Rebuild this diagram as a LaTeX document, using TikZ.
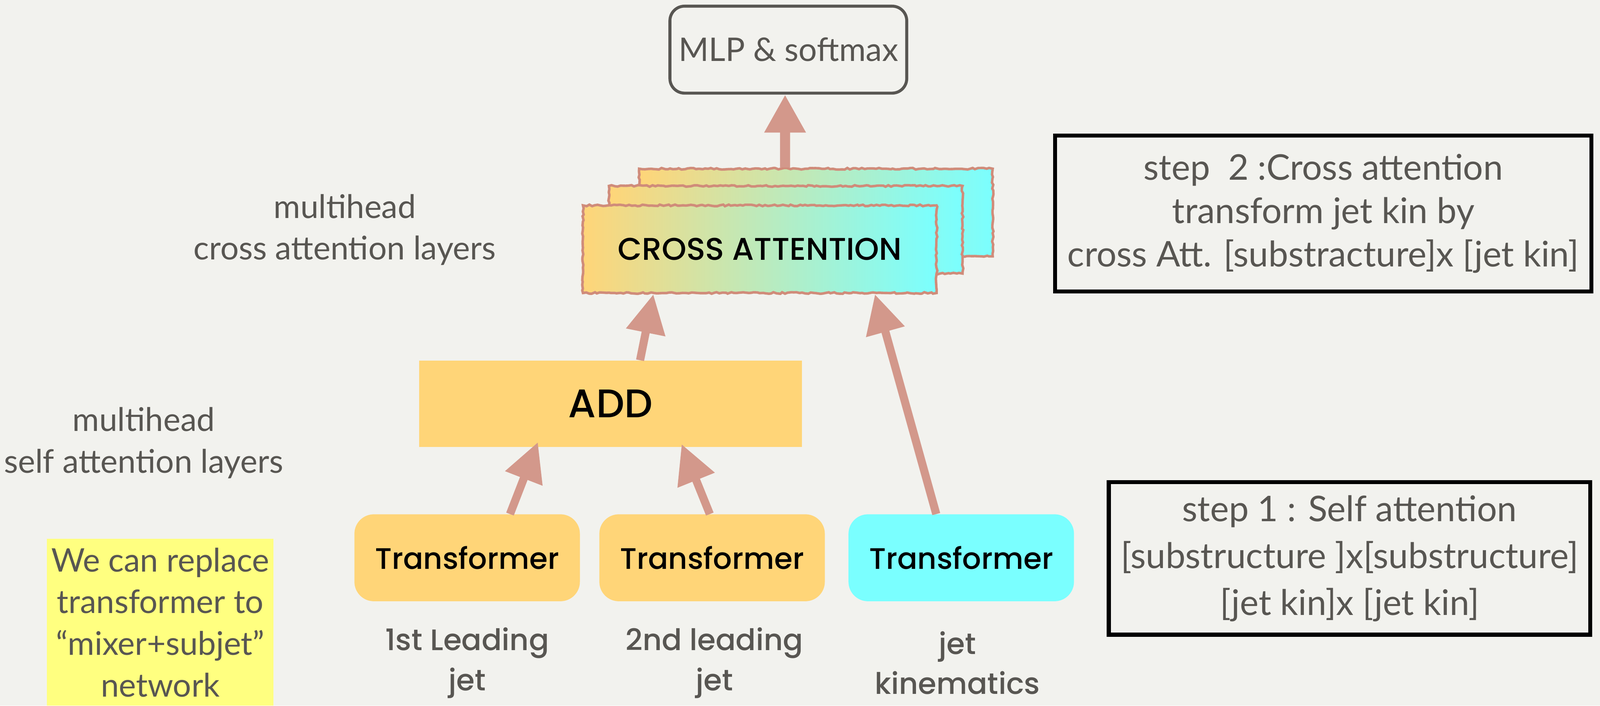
\documentclass[tikz,border=0pt]{standalone}
\usepackage{fontspec}
\setmainfont{Lato}
\newfontfamily\geofont{Poppins Medium}
\usetikzlibrary{arrows.meta,decorations.pathmorphing,positioning}

\definecolor{paper}{RGB}{242,242,238}
\definecolor{inkgray}{RGB}{88,86,82}
\definecolor{arrowpink}{RGB}{211,152,139}
\definecolor{boxyellow}{RGB}{255,213,120}
\definecolor{boxcyan}{RGB}{122,255,255}
\definecolor{cardedge}{RGB}{208,140,122}
\definecolor{noteyellow}{RGB}{255,255,128}

\tikzset{
  graytext/.style={text=inkgray,align=center,font=\fontsize{28.5}{36.5}\selectfont},
  srclabel/.style={text=inkgray,align=center,font=\geofont\fontsize{26}{35}\selectfont},
  mlpbox/.style={draw=inkgray,line width=2.6pt,rounded corners=0.45cm,
    minimum width=7.3cm,minimum height=2.68cm,text=inkgray,
    font=\fontsize{28.5}{34}\selectfont},
  card/.style={draw=cardedge,line width=2.2pt,left color=boxyellow,right color=boxcyan,
    minimum width=10.9cm,minimum height=2.7cm,font=\geofont\fontsize{27.5}{30}\selectfont,
    decorate,decoration={random steps,segment length=2.5pt,amplitude=0.7pt}},
  addbox/.style={fill=boxyellow,minimum width=11.8cm,minimum height=2.66cm,
    font=\geofont\fontsize{35}{38}\selectfont},
  tfbox/.style={rounded corners=0.6cm,minimum width=6.95cm,minimum height=2.68cm,
    font=\geofont\fontsize{26}{30}\selectfont},
  stepbox/.style={draw=black,line width=3.6pt,text=inkgray,align=center},
  note/.style={fill=noteyellow,text=inkgray,align=center,minimum width=6.98cm,
    minimum height=5.14cm,font=\fontsize{28.5}{36.5}\selectfont},
  arrow/.style={draw=arrowpink,line width=0.25cm,-{Triangle[length=1.2cm,width=1.17cm]}},
  bigarrow/.style={draw=arrowpink,line width=0.31cm,-{Triangle[length=1.17cm,width=1.2cm]}}
}

\begin{document}
\begin{tikzpicture}
  \fill[paper] (0,0) rectangle (49.32,21.75);
  \useasboundingbox (0,0) rectangle (49.32,21.75);

  % output layer
  \node[mlpbox] (mlp) at (24.30,20.22) {MLP \& softmax};

  % stack of cross attention layers
  \node[card] (back) at (25.15,15.20) {};
  \node[card] (mid) at (24.22,14.67) {};
  \node[card] (front) at (23.42,14.07) {CROSS ATTENTION};

  \node[addbox] (add) at (18.82,9.31) {ADD};

  % self attention blocks
  \node[tfbox,fill=boxyellow] (tf1) at (14.40,4.56) {Transformer};
  \node[tfbox,fill=boxyellow] (tf2) at (21.95,4.56) {Transformer};
  \node[tfbox,fill=boxcyan] (tf3) at (29.63,4.56) {Transformer};

  \node[srclabel] (src1) at (14.40,1.32) {1st Leading\\jet};
  \node[srclabel] (src2) at (22.02,1.32) {2nd leading\\jet};
  \node[srclabel] (src3) at (29.51,1.32) {jet\\kinematics};

  \draw[bigarrow] ([xshift=-0.95cm]back.north) -- ([xshift=-0.1cm]mlp.south);
  \draw[arrow] ([xshift=0.91cm]add.north) -- ([xshift=-3.28cm]front.south);
  \draw[arrow] ([xshift=1.32cm]tf1.north) -- ([xshift=-2.24cm,yshift=0.15cm]add.south);
  \draw[arrow] ([xshift=-0.07cm]tf2.north) -- ([xshift=2.19cm,yshift=0.09cm]add.south);
  \draw[arrow] ([xshift=-0.77cm]tf3.north) -- ([xshift=3.55cm]front.south);

  % side notes
  \node[graytext] (crosslab) at (10.63,14.67) {multihead\\cross attention layers};
  \node[graytext] (selflab) at (4.43,8.10) {multihead\\self attention layers};
  \node[note] (replace) at (4.94,2.57) {We can replace\\transformer to\\“mixer+subjet”\\network};

  \node[stepbox,minimum width=16.53cm,minimum height=4.80cm,
    font=\fontsize{31}{38}\selectfont] (step2) at (40.79,15.17)
    {step\ \ 2 :Cross attention\\transform jet kin by\\cross Att. [substracture]x [jet kin]};
  \node[stepbox,minimum width=14.84cm,minimum height=4.70cm,
    font=\fontsize{31}{41}\selectfont] (step1) at (41.60,4.54)
    {step 1 : Self attention\\{[}substructure ]x[substructure]\\{[}jet kin]x [jet kin]};
\end{tikzpicture}
\end{document}
